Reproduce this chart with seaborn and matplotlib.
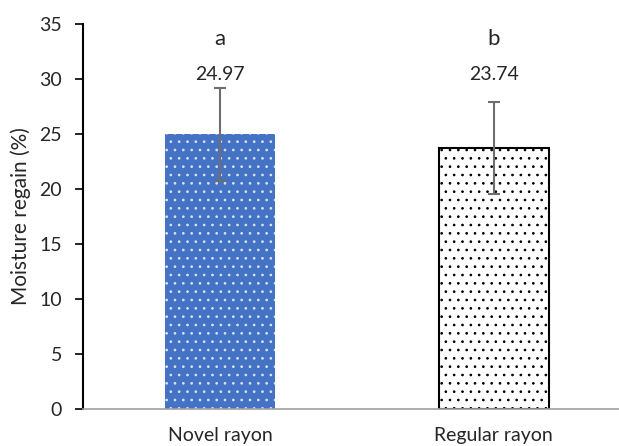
import matplotlib
matplotlib.use('Agg')
import matplotlib.pyplot as plt
import seaborn as sns
import pandas as pd

# data
categories = ['Novel rayon', 'Regular rayon']
moisture = [24.97, 23.74]
errors = [4.2, 4.2]
letters = ['a', 'b']
bar_colors = ['#4472C4', '#FFFFFF']

sns.set_style('white')
plt.rcParams['font.family'] = ['Lato', 'DejaVu Sans']
plt.rcParams['hatch.linewidth'] = 0.7

df = pd.DataFrame({'type': categories, 'regain': moisture})

fig = plt.figure(figsize=(6.19, 4.46), dpi=100)
ax = fig.add_axes([0.134, 0.083, 0.885, 0.863])

sns.barplot(data=df, x='type', y='regain', hue='type', palette=bar_colors,
            width=0.4, legend=False, ax=ax, errorbar=None, saturation=1)

# hatching: white dots on blue, black dots on white
for p, col in zip(ax.patches, bar_colors):
    if col == '#FFFFFF':
        p.set_edgecolor('black')
        p.set_linewidth(1.5)
    else:
        p.set_edgecolor('#DCE4F4')
        p.set_linewidth(0)
    p.set_hatch('..')

ax.errorbar(range(len(categories)), moisture, yerr=errors, fmt='none',
            ecolor='#6E6E6E', elinewidth=1.5, capsize=4, capthick=1.5)

for i, (v, l) in enumerate(zip(moisture, letters)):
    ax.text(i, 33.6, l, ha='center', va='center', fontsize=16)
    ax.text(i, 30.4, f'{v:.2f}', ha='center', va='center', fontsize=14)

ax.set_ylim(0, 35)
ax.set_xlim(-0.5, 1.5)
ax.set_yticks(range(0, 36, 5))
ax.set_ylabel('Moisture regain (%)', fontsize=15, labelpad=6)
ax.set_xlabel('')
ax.tick_params(axis='y', labelsize=14, length=6, width=1.2, color='black',
               direction='out', left=True, pad=9)
ax.set_xticks([0, 1])
ax.set_xticklabels(categories, fontsize=14)
ax.tick_params(axis='x', length=0, pad=13)
ax.set_xticks([-0.5, 0.5, 1.5], minor=True)
ax.tick_params(axis='x', which='minor', length=6, color='#A0A0A0', width=1)

for s in ['top', 'right']:
    ax.spines[s].set_visible(False)
ax.spines['left'].set_color('black')
ax.spines['left'].set_linewidth(1.5)
ax.spines['bottom'].set_color('#A0A0A0')
ax.spines['bottom'].set_linewidth(1.2)

fig.savefig('out.png', dpi=100)
